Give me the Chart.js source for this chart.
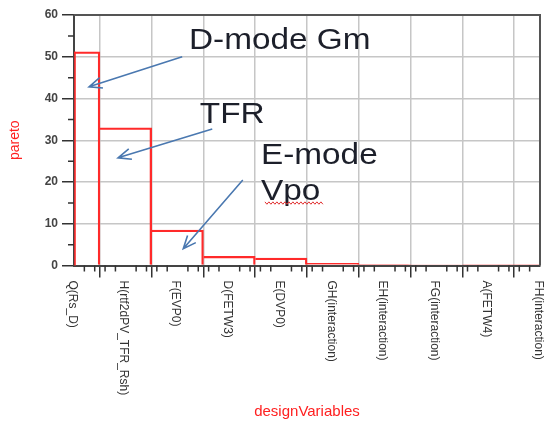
<!DOCTYPE html>
<html>
<head>
<meta charset="utf-8">
<script src="https://cdn.jsdelivr.net/npm/chart.js@4"></script>
<style>
html, body { margin: 0; padding: 0; background: #fff; }
#wrap { width: 547px; height: 421px; }
</style>
</head>
<body>
<div id="wrap"><canvas id="pareto"></canvas></div>
<script>
Chart.defaults.font.family = "'Liberation Sans', Arial, sans-serif";

var categories = ['Q(Rs_D)', 'H(rtf2dPV_TFR_Rsh)', 'F(EVP0)', 'D(FETW3)', 'E(DVP0)',
  'GH(interaction)', 'EH(interaction)', 'FG(interaction)', 'A(FETW4)', 'FH(interaction)'];
var paretoValues = [51.2, 33.0, 8.5, 2.2, 1.8, 0.5, 0.2, 0.15, 0.1, 0.1];
var yTicks = [0, 10, 20, 30, 40, 50, 60];

// callouts, anchored in data space: [category position, value]
var notes = [
  { lines: ['D-mode Gm'], at: [2.22, 51.9], from: [2.09, 50.0], to: [0.29, 42.8] },
  { lines: ['TFR'], at: [2.43, 34.1], from: [2.67, 32.7], to: [0.85, 25.8] },
  { lines: ['E-mode', 'Vpo'], at: [3.61, 24.3], from: [3.26, 20.5], to: [2.11, 4.0] }
];

function arrow(ctx, x1, y1, x2, y2) {
  var a = Math.atan2(y2 - y1, x2 - x1), L = 14, w = 0.4;
  ctx.beginPath();
  ctx.moveTo(x1, y1); ctx.lineTo(x2, y2);
  ctx.moveTo(x2 - L * Math.cos(a - w), y2 - L * Math.sin(a - w));
  ctx.lineTo(x2, y2);
  ctx.lineTo(x2 - L * Math.cos(a + w), y2 - L * Math.sin(a + w));
  ctx.stroke();
}

var extras = {
  id: 'extras',
  afterDatasetsDraw: function(chart) {
    var ctx = chart.ctx, xs = chart.scales.x, ys = chart.scales.y;
    // left edge of the first (half) bar
    ctx.save();
    ctx.strokeStyle = '#ff2a2a'; ctx.lineWidth = 1.6;
    ctx.beginPath();
    ctx.moveTo(xs.left + 1, ys.getPixelForValue(0));
    ctx.lineTo(xs.left + 1, ys.getPixelForValue(paretoValues[0]));
    ctx.stroke();
    ctx.restore();
  },
  afterDraw: function(chart) {
    var ctx = chart.ctx, xs = chart.scales.x, ys = chart.scales.y;
    var area = chart.chartArea;
    ctx.save();
    // frame top / right
    ctx.strokeStyle = '#555'; ctx.lineWidth = 2;
    ctx.beginPath();
    ctx.moveTo(area.left, area.top); ctx.lineTo(area.right, area.top); ctx.lineTo(area.right, area.bottom);
    ctx.stroke();

    // minor ticks
    ctx.strokeStyle = '#333'; ctx.lineWidth = 1.5;
    ctx.beginPath();
    for (var i = 0; i < categories.length - 1; i++) {
      for (var k = 1; k < 5; k++) {
        var mx = xs.getPixelForValue(i + k / 5);
        ctx.moveTo(mx, area.bottom); ctx.lineTo(mx, area.bottom + 6);
      }
    }
    for (var v = 5; v < 60; v += 10) {
      var my = ys.getPixelForValue(v);
      ctx.moveTo(area.left, my); ctx.lineTo(area.left - 6, my);
    }
    ctx.stroke();

    // rotated category labels
    ctx.font = "12px 'Liberation Sans', Arial, sans-serif";
    ctx.fillStyle = '#333';
    ctx.textAlign = 'left'; ctx.textBaseline = 'middle';
    categories.forEach(function(c, j) {
      ctx.save();
      ctx.translate(xs.getPixelForTick(j) - 2, area.bottom + 15);
      ctx.rotate(Math.PI / 2);
      ctx.fillText(c, 0, 0);
      ctx.restore();
    });

    // callouts
    ctx.strokeStyle = '#4a78b0'; ctx.lineWidth = 1.6;
    notes.forEach(function(n) {
      arrow(ctx, xs.getPixelForValue(n.from[0]), ys.getPixelForValue(n.from[1]),
        xs.getPixelForValue(n.to[0]), ys.getPixelForValue(n.to[1]));
    });
    ctx.fillStyle = '#1c1f2a';
    ctx.font = "29px 'Liberation Sans', Arial, sans-serif";
    ctx.textBaseline = 'alphabetic';
    notes.forEach(function(n) {
      var tx = xs.getPixelForValue(n.at[0]), ty = ys.getPixelForValue(n.at[1]);
      n.lines.forEach(function(s, li) {
        ctx.save();
        ctx.translate(tx, ty + li * 36);
        ctx.scale(1.15, 1);
        ctx.fillText(s, 0, 0);
        ctx.restore();
      });
    });
    // red squiggle under "Vpo"
    var last = notes[2];
    var sx = xs.getPixelForValue(last.at[0]) + 4, sy = ys.getPixelForValue(last.at[1]) + 39;
    ctx.strokeStyle = '#e03030'; ctx.lineWidth = 1;
    ctx.beginPath();
    for (var p = 0; p <= 58; p += 2) {
      var yy = sy + ((p / 2) % 2 ? 1.2 : -1.2);
      if (p === 0) ctx.moveTo(sx + p, yy); else ctx.lineTo(sx + p, yy);
    }
    ctx.stroke();
    ctx.restore();
  }
};

var context = document.getElementById('pareto').getContext('2d');
var chart = new Chart(context, {
  type: 'bar',
  data: {
    labels: categories,
    datasets: [{
      label: 'pareto',
      data: paretoValues,
      backgroundColor: 'rgba(255,255,255,0)',
      borderColor: '#ff2a2a',
      borderWidth: { top: 1.6, right: 1.6, left: 0, bottom: 0 },
      borderSkipped: false,
      barPercentage: 1,
      categoryPercentage: 1,
      clip: 0
    }]
  },
  options: {
    responsive: true,
    maintainAspectRatio: false,
    animation: false,
    layout: { padding: { top: 15, right: 7, left: 0, bottom: 0 } },
    plugins: { legend: { display: false }, tooltip: { enabled: false } },
    scales: {
      x: {
        type: 'category',
        offset: false,
        grid: { color: '#c6c6c6', lineWidth: 1.5, tickColor: '#333', tickLength: 12, tickWidth: 1.5 },
        border: { color: '#444', width: 2 },
        ticks: { display: false },
        title: { display: true, text: 'designVariables', color: '#ff2020',
          font: { size: 15 }, padding: { top: 0, bottom: 0 } },
        afterFit: function(s) { s.height = 155.5; }
      },
      y: {
        min: 0, max: 60,
        afterBuildTicks: function(s) { s.ticks = yTicks.map(function(v) { return { value: v }; }); },
        grid: { color: '#c6c6c6', lineWidth: 1.5, tickColor: '#333', tickLength: 12, tickWidth: 1.5 },
        border: { color: '#444', width: 2 },
        ticks: { color: '#444', padding: 4, font: { size: 12, weight: 'bold' } },
        title: { display: true, text: 'pareto', color: '#ff2020',
          font: { size: 14 }, padding: { top: 7, bottom: 0 } },
        afterFit: function(s) { s.width = 74; }
      }
    }
  },
  plugins: [extras]
});
</script>
</body>
</html>
